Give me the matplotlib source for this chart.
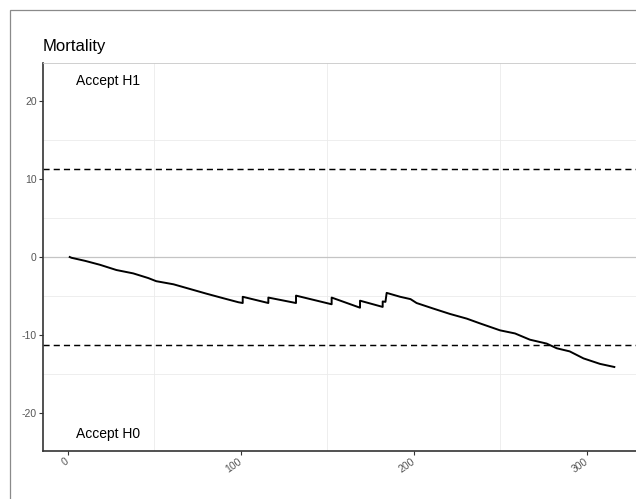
import matplotlib
matplotlib.use("Agg")
import matplotlib.pyplot as plt
from matplotlib.patches import Rectangle

plt.rcParams['font.family'] = ['Liberation Sans', 'DejaVu Sans']
plt.rcParams['axes.unicode_minus'] = False

# statystyka SPRT
obs = [1, 2, 10, 18.5, 28, 37.7, 46.4, 51, 61, 70.5, 80, 90, 98.5,
       101, 101, 115.8, 115.8, 131.8, 131.8, 152.4, 152.4, 168.8, 168.8,
       181.9, 181.9, 183.5, 184.2, 192, 198, 201.5, 211, 220.8, 230.5,
       238, 249.7, 258.4, 267, 276.7, 282.5, 290, 298, 307.5, 315.8]
llr = [0, -0.1, -0.5, -1.0, -1.67, -2.1, -2.7, -3.1, -3.5, -4.1, -4.7, -5.3, -5.8,
       -5.9, -5.1, -5.9, -5.2, -5.9, -4.95, -6.06, -5.2, -6.5, -5.6,
       -6.4, -5.7, -5.75, -4.6, -5.1, -5.4, -5.9, -6.6, -7.3, -7.9,
       -8.5, -9.4, -9.8, -10.6, -11.1, -11.7, -12.1, -13.0, -13.7, -14.1]

upper_limit = 11.33
lower_limit = -11.33
x_ticks = [0, 100, 200, 300]
y_ticks = [-20, -10, 0, 10, 20]

W, H = 636, 499
fig = plt.figure(figsize=(W / 100, H / 100), dpi=100)
fig.patch.set_facecolor('white')

# ramka calej figury (obcieta z prawej i z dolu)
fig.add_artist(Rectangle((10 / W, -0.2), 2, 1.2 - 10 / H, transform=fig.transFigure,
                         fill=False, edgecolor='#8a8a8a', lw=0.9))

ax = fig.add_axes([43 / W, (H - 451) / H, (642 - 43) / W, (451 - 63) / H])
ax.set_xlim(-14.45, 331.8)
ax.set_ylim(-24.87, 24.87)

ax.set_xticks([50, 150, 250], minor=True)
ax.set_yticks([-15, -5, 5, 15], minor=True)
ax.grid(which='minor', color='#ebebeb', lw=0.6)
ax.grid(which='major', visible=False)
ax.set_axisbelow(True)

ax.axhline(0, color='#c4c4c4', lw=0.9, zorder=1)
ax.axhline(upper_limit, color='black', lw=1.05, dashes=(4.2, 2.8), zorder=2)
ax.axhline(lower_limit, color='black', lw=1.05, dashes=(4.2, 2.8), zorder=2)
ax.plot(obs, llr, color='black', lw=1.4, zorder=3, solid_joinstyle='round')

ax.text(23.4, 22.6, 'Accept H1', ha='center', va='center', fontsize=10)
ax.text(23.4, -22.7, 'Accept H0', ha='center', va='center', fontsize=10)

ax.set_xticks(x_ticks)
ax.set_xticklabels([str(t) for t in x_ticks], rotation=35, ha='right',
                   va='center', rotation_mode='anchor')
ax.set_yticks(y_ticks)
ax.tick_params(which='major', length=3, width=0.8, color='#333333',
               labelsize=7.5, labelcolor='#555555', pad=1.5)
ax.tick_params(which='minor', length=0)
ax.tick_params(axis='x', pad=4)

for side in ['left', 'bottom']:
    ax.spines[side].set_color('#333333')
    ax.spines[side].set_linewidth(1.2)
ax.spines['top'].set_color('#c8c8c8')
ax.spines['top'].set_linewidth(0.6)
ax.spines['right'].set_visible(False)

fig.text(43 / W, 1 - 51 / H, 'Mortality', fontsize=12, ha='left', va='baseline')

fig.savefig('out.png', dpi=100)
